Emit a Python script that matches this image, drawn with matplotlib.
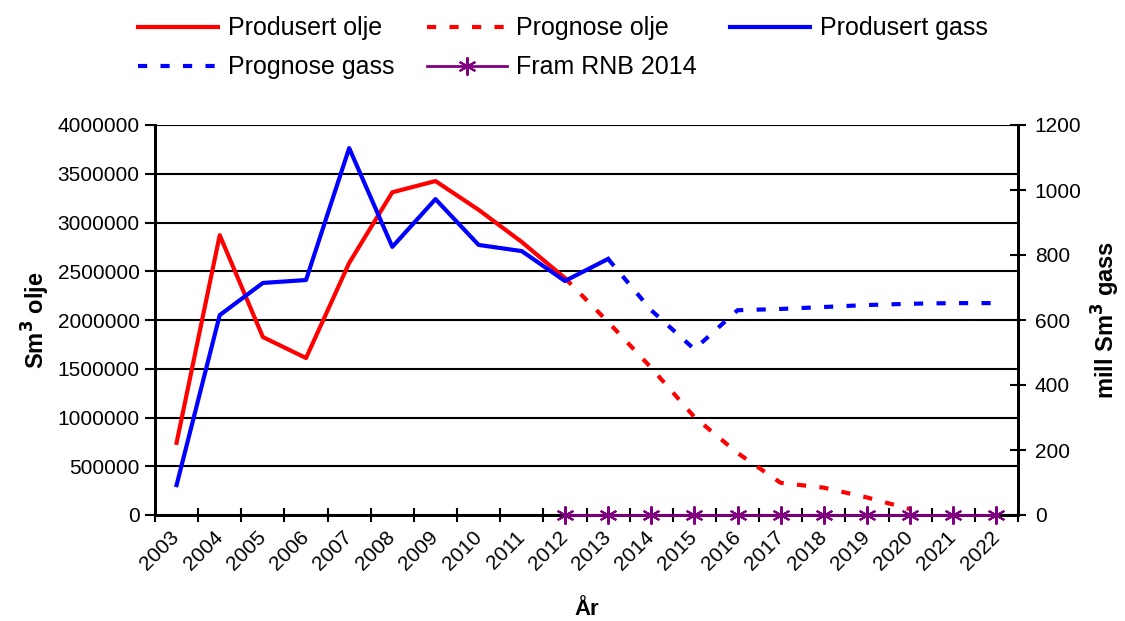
import matplotlib.pyplot as plt
import numpy as np

plt.rcParams['font.family'] = ['Liberation Sans', 'DejaVu Sans']

years = [str(y) for y in range(2003, 2023)]

# Sm3 olje
oil_prod_years = years[0:10]  # 2003-2012
oil_prod = [740000, 2870000, 1825000, 1610000, 2585000, 3310000, 3425000, 3130000, 2800000, 2430000]
oil_prog_years = years[9:18]  # 2012-2020
oil_prog = [2430000, 1980000, 1510000, 1005000, 636000, 330000, 280000, 180000, 60000]

# mill Sm3 gass
gas_prod_years = years[0:11]  # 2003-2013
gas_prod = [92, 615, 714, 723, 1129, 825, 972, 831, 812, 720, 788]
gas_prog_years = years[10:20]  # 2013-2022
gas_prog = [788, 630, 510, 630, 634, 640, 646, 650, 652, 652]
rnb_years = years[9:20]  # 2012-2022
rnb = [0, 0, 0, 0, 0, 0, 0, 0, 0, 0, 0]


def pos(labels):
    return [years.index(y) for y in labels]


fig = plt.figure(figsize=(11.25, 6.21), dpi=100)
ax = fig.add_axes([155 / 1125, 1 - 515 / 621, (1018 - 155) / 1125, (515 - 125) / 621])
ax2 = ax.twinx()

dots = (0, (2.2, 3.2))
red = "#ff0000"
blue = "#0000ff"
purple = "#800080"

l1, = ax.plot(pos(oil_prod_years), oil_prod, color=red, lw=3, label="Produsert olje", zorder=3)
l2, = ax.plot(pos(oil_prog_years), oil_prog, color=red, lw=3, ls=dots, label="Prognose olje", zorder=3)
l3, = ax2.plot(pos(gas_prod_years), gas_prod, color=blue, lw=3, label="Produsert gass", zorder=3)
l4, = ax2.plot(pos(gas_prog_years), gas_prog, color=blue, lw=3, ls=dots, label="Prognose gass", zorder=3)
l5, = ax2.plot(pos(rnb_years), rnb, color=purple, lw=2, marker=(6, 2, 0), ms=13, mew=1.5,
               label="Fram RNB 2014", zorder=4, clip_on=False)

ax.set_xlim(-0.5, len(years) - 0.5)
ax.set_ylim(0, 4000000)
ax2.set_ylim(0, 1200)

ax.set_yticks(np.arange(0, 4000001, 500000))
ax.set_yticklabels([str(v) for v in range(0, 4000001, 500000)])
ax2.set_yticks(np.arange(0, 1201, 200))

# tick marks between categories, labels at centres
ax.set_xticks(np.arange(-0.5, len(years), 1.0))
ax.set_xticklabels([])
ax.set_xticks(np.arange(len(years)), minor=True)
ax.set_xticklabels(years, minor=True, rotation=45, ha="right", va="center",
                   rotation_mode="anchor", fontsize=15)
ax.tick_params(axis="x", which="major", direction="inout", length=10, width=1.5)
ax.tick_params(axis="x", which="minor", length=0, pad=14)

ax.tick_params(axis="y", direction="out", length=7, width=1.5, labelsize=15, pad=4)
ax2.tick_params(axis="y", direction="inout", length=12, width=1.5, labelsize=15, pad=6)

ax.grid(axis="y", color="black", lw=1.5)
ax.set_axisbelow(True)

for a in (ax, ax2):
    a.spines["top"].set_visible(False)
    a.spines["left"].set_linewidth(2)
    a.spines["right"].set_linewidth(2)
    a.spines["bottom"].set_linewidth(2)

ax.set_ylabel(r"Sm$^\mathbf{3}$ olje", fontsize=17, fontweight="bold", labelpad=4)
ax2.set_ylabel(r"mill Sm$^\mathbf{3}$ gass", fontsize=17, fontweight="bold", labelpad=6)
ax.set_xlabel("År", fontsize=16, fontweight="bold", labelpad=18)

# legend fills row by row in the reference, so reorder for column-wise filling
fig.legend(handles=[l1, l4, l2, l5, l3], loc="upper center", bbox_to_anchor=(0.5, 1.01),
           ncol=3, frameon=False, fontsize=18, handlelength=3.2, handletextpad=0.4,
           columnspacing=1.3, labelspacing=0.6, numpoints=1)

fig.savefig("out.png", dpi=100)
